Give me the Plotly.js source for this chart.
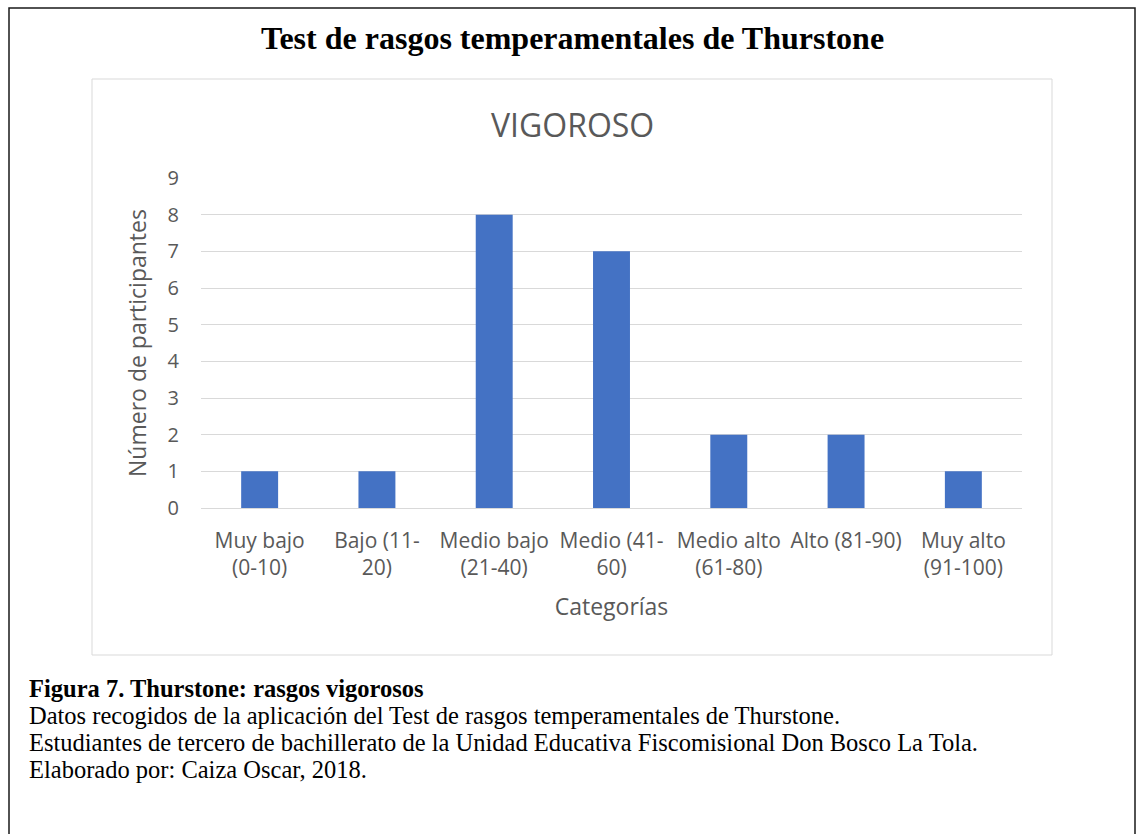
<!DOCTYPE html>
<html>
<head>
<meta charset="utf-8">
<script src="https://cdn.plot.ly/plotly-3.0.1.min.js"></script>
<style>html,body{margin:0;padding:0;background:#fff;}#chart{width:1140px;height:834px;}</style>
</head>
<body>
<div id="chart"></div>
<script>
const categories = ["Muy bajo<br>(0-10)", "Bajo (11-<br>20)", "Medio bajo<br>(21-40)", "Medio (41-<br>60)", "Medio alto<br>(61-80)", "Alto (81-90)", "Muy alto<br>(91-100)"];
const participantes = [1, 1, 8, 7, 2, 2, 1];
const yTicks = [0, 1, 2, 3, 4, 5, 6, 7, 8, 9];
const mainTitle = "Test de rasgos temperamentales de Thurstone";
const chartTitle = "VIGOROSO";
const xTitle = "Categorías";
const yTitle = "Número de participantes";
const captionBold = "Figura 7. Thurstone: rasgos vigorosos";
const captionLines = [
  "Datos recogidos de la aplicación del Test de rasgos temperamentales de Thurstone.",
  "Estudiantes de tercero de bachillerato de la Unidad Educativa Fiscomisional Don Bosco La Tola.",
  "Elaborado por: Caiza Oscar, 2018."
];

const W = 1140, H = 834;
const M = {l: 201, r: 118, t: 178, b: 326};
const pw = W - M.l - M.r, ph = H - M.t - M.b;
const px = x => (x - M.l) / pw;
const py = y => (H - M.b - y) / ph;

const gray = "#595959";
const sans = "Open Sans, sans-serif";
const serif = "Liberation Serif, Times New Roman, serif";
const capSize = 24.5;
const capGap = 27;
const capTop = 688;

const annotations = [
  {text: "<b>" + mainTitle + "</b>", x: px(572), y: py(38), xref: "paper", yref: "paper",
   xanchor: "center", yanchor: "middle", showarrow: false, font: {family: serif, size: 32, color: "#000"}},
  {text: chartTitle, x: px(572), y: py(124), xref: "paper", yref: "paper",
   xanchor: "center", yanchor: "middle", showarrow: false, font: {family: sans, size: 32, color: gray}},
  {text: "<b>" + captionBold + "</b>", x: px(29), y: py(capTop), xref: "paper", yref: "paper",
   xanchor: "left", yanchor: "middle", showarrow: false, borderpad: 0, borderwidth: 0,
   font: {family: serif, size: capSize, color: "#000"}}
];
captionLines.forEach((t, i) => {
  annotations.push({text: t, x: px(29), y: py(capTop + capGap * (i + 1)), xref: "paper", yref: "paper",
    xanchor: "left", yanchor: "middle", showarrow: false, borderpad: 0, borderwidth: 0,
    font: {family: serif, size: capSize, color: "#000"}});
});

const shapes = [
  {type: "rect", xref: "paper", yref: "paper", x0: px(9), x1: px(1135), y0: py(845), y1: py(8),
   line: {color: "#1a1a1a", width: 1.5}, fillcolor: "rgba(0,0,0,0)"},
  {type: "rect", xref: "paper", yref: "paper", x0: px(92), x1: px(1052), y0: py(655), y1: py(79),
   line: {color: "#d9d9d9", width: 1}, fillcolor: "rgba(0,0,0,0)"}
];

const data = [{
  type: "bar", x: categories, y: participantes,
  marker: {color: "#4472C4"}, hoverinfo: "x+y"
}];

const layout = {
  width: W, height: H,
  margin: M,
  paper_bgcolor: "#fff", plot_bgcolor: "#fff",
  showlegend: false,
  bargap: 0.685,
  font: {family: sans, color: gray},
  xaxis: {
    type: "category", automargin: false,
    tickfont: {family: sans, size: 21, color: gray},
    ticks: "", showline: false, showgrid: false, zeroline: false,
    ticklabelstandoff: 18,
    title: {text: xTitle, font: {family: sans, size: 23, color: gray}, standoff: 18}
  },
  yaxis: {
    range: [0, 9], tickvals: yTicks, automargin: false,
    tickfont: {family: sans, size: 20, color: gray},
    ticks: "", showline: false,
    showgrid: true, gridcolor: "#d9d9d9", gridwidth: 1,
    zeroline: true, zerolinecolor: "#d9d9d9", zerolinewidth: 1,
    ticklabelstandoff: 21,
    title: {text: yTitle, font: {family: sans, size: 23, color: gray}, standoff: 14}
  },
  shapes: shapes,
  annotations: annotations
};

Plotly.newPlot("chart", data, layout, {displayModeBar: false, staticPlot: true});
</script>
</body>
</html>
